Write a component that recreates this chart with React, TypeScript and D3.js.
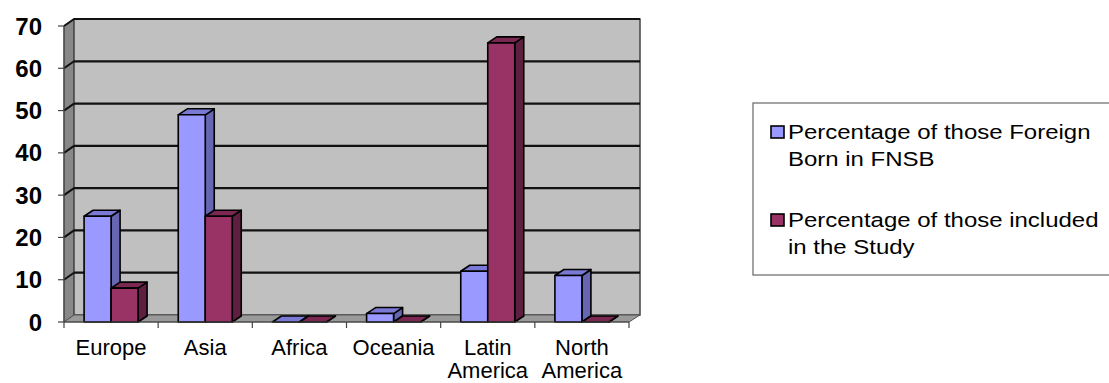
import React from "react";
import * as d3 from "d3";

const categories = [["Europe"], ["Asia"], ["Africa"], ["Oceania"], ["Latin", "America"], ["North", "America"]];
const foreignBorn = [25, 49, 0, 2, 12, 11];
const studyIncluded = [8, 25, 0, 0, 66, 0];
const yTicks = [0, 10, 20, 30, 40, 50, 60, 70];
const seriesNames = [
  ["Percentage of those Foreign", "Born in FNSB"],
  ["Percentage of those included", "in the Study"],
];

const W = 1109, H = 383;
const x0 = 64, x1 = 629, yTop = 26, yBase = 322;
const DX = 10, DY = -7; // wall depth
const BDX = 9, BDY = -6; // bar depth

const colors = [
  { front: "#9999FF", side: "#6666B3", top: "#7A7AD6" },
  { front: "#993366", side: "#5E1F40", top: "#7A2852" },
];

export default function App() {
  const y = d3.scaleLinear().domain([0, 70]).range([yBase, yTop]);
  const xb = d3.scaleBand<number>().domain(d3.range(categories.length)).range([x0, x1]);
  const inner = d3.scaleBand<number>().domain([0, 1]).range([0, 54]);
  const barOff = (xb.bandwidth() - 54) / 2;
  const series = [foreignBorn, studyIncluded];

  const bars: JSX.Element[] = [];
  categories.forEach((_, i) => {
    series.forEach((vals, s) => {
      const v = vals[i];
      const bx = (xb(i) as number) + barOff + (inner(s) as number);
      const bw = inner.bandwidth();
      const ty = y(v);
      const c = colors[s];
      const front = `M${bx},${yBase}L${bx},${ty}L${bx + bw},${ty}L${bx + bw},${yBase}Z`;
      const side = `M${bx + bw},${yBase}L${bx + bw},${ty}L${bx + bw + BDX},${ty + BDY}L${bx + bw + BDX},${yBase + BDY}Z`;
      const top = `M${bx},${ty}L${bx + BDX},${ty + BDY}L${bx + bw + BDX},${ty + BDY}L${bx + bw},${ty}Z`;
      bars.push(
        <g key={`b${i}-${s}`} stroke="#000" strokeWidth={1.6} strokeLinejoin="round">
          <path d={side} fill={c.side} />
          <path d={top} fill={c.top} />
          {v > 0 && <path d={front} fill={c.front} />}
        </g>
      );
    });
  });

  const bx0 = x0 + DX, bx1 = x1 + DX + 1, byTop = yTop + DY, byBase = yBase + DY;

  return (
    <svg width={W} height={H} style={{ position: "absolute", left: 0, top: 0, background: "#fff" }} fontFamily="'Liberation Sans', Arial, sans-serif">
      {/* side wall */}
      <path d={`M${x0},${yBase}L${x0},${yTop}L${bx0},${byTop}L${bx0},${byBase}Z`} fill="#888888" stroke="#555" strokeWidth={1} />
      {/* back wall */}
      <rect x={bx0} y={byTop} width={bx1 - bx0} height={byBase - byTop} fill="#C0C0C0" stroke="#444" strokeWidth={1.5} />
      {/* floor */}
      <path d={`M${x0},${yBase}L${bx0},${byBase}L${bx1},${byBase}L${x1},${yBase}Z`} fill="#9A9A9A" stroke="#555" strokeWidth={1} />
      {/* gridlines */}
      {yTicks.filter((t) => t > 0).map((t) => (
        <g key={t}>
          <line x1={x0} y1={y(t)} x2={bx0} y2={y(t) + DY} stroke="#111" strokeWidth={2} />
          <line x1={bx0} y1={y(t) + DY} x2={bx1} y2={y(t) + DY} stroke="#111" strokeWidth={2.2} />
        </g>
      ))}
      {bars}
      {/* axes */}
      <line x1={x0} y1={yTop} x2={x0} y2={yBase} stroke="#444" strokeWidth={1.2} />
      <line x1={x0} y1={yBase} x2={x1} y2={yBase} stroke="#444" strokeWidth={1.2} />
      {yTicks.map((t) => (
        <g key={`yt${t}`}>
          <line x1={x0 - 6} y1={y(t)} x2={x0} y2={y(t)} stroke="#444" strokeWidth={1.2} />
          <text x={42} y={y(t)} dy="0.36em" textAnchor="end" fontSize={24} fontWeight="bold" fill="#000">{t}</text>
        </g>
      ))}
      {d3.range(categories.length + 1).map((i) => {
        const xx = x0 + i * xb.step();
        return <line key={`xt${i}`} x1={xx} y1={yBase} x2={xx} y2={yBase + 6} stroke="#444" strokeWidth={1.2} />;
      })}
      {categories.map((lines, i) => (
        <text key={`c${i}`} textAnchor="middle" fontSize={22} fill="#000">
          {lines.map((l, k) => (
            <tspan key={k} x={(xb(i) as number) + xb.bandwidth() / 2} y={355 + k * 23}>{l}</tspan>
          ))}
        </text>
      ))}
      {/* legend */}
      <rect x={753} y={103} width={400} height={172} fill="#fff" stroke="#666" strokeWidth={1.2} />
      {seriesNames.map((lines, s) => {
        const base = s === 0 ? 139 : 227;
        return (
          <g key={`lg${s}`}>
            <rect x={771} y={base - 13} width={13} height={12} fill={colors[s].front} stroke="#000" strokeWidth={1.6} />
            {lines.map((l, k) => (
              <text key={k} x={0} y={0} fontSize={20.5} fill="#000" transform={`translate(788,${base + k * 27}) scale(1.17,1)`}>{l}</text>
            ))}
          </g>
        );
      })}
    </svg>
  );
}
